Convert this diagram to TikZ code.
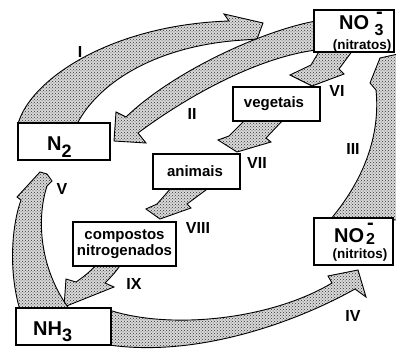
\documentclass[tikz,border=0pt]{standalone}
\usepackage{fontspec}
\setmainfont{Liberation Sans}
\usetikzlibrary{patterns}
\begin{document}
\begin{tikzpicture}[x=1pt,y=-1pt,
  box/.style={draw=black, line width=1.2pt, fill=white, inner sep=0pt},
  arr/.style={draw=black, line width=0.9pt, line join=miter,
              preaction={fill=gray!30}, pattern=crosshatch dots, pattern color=black!80},
  lab/.style={font=\bfseries\fontsize{16}{16}\selectfont, inner sep=0pt},
  txt/.style={font=\bfseries\fontsize{15}{15.5}\selectfont, inner sep=0pt, align=center},
  small/.style={font=\bfseries\fontsize{13.5}{13.5}\selectfont, inner sep=0pt},
  big/.style={font=\bfseries\fontsize{20}{20}\selectfont, inner sep=0pt},
  sub/.style={font=\bfseries\fontsize{16}{16}\selectfont, inner sep=0pt}]
\useasboundingbox (0,0) rectangle (396,350);
\fill[white] (0,0) rectangle (396,350);

% ---- arrows ----
% I : N2 -> NO3
\path[arr] (18,124) .. controls (30,80) and (110,25) .. (229,21) -- (224,14) -- (263,23)
  -- (257,39) -- (244,40) .. controls (160,45) and (100,80) .. (77,124) -- cycle;
% II : NO3 -> N2
\path[arr] (316,21) .. controls (265,30) and (175,70) .. (126,117) -- (116,112) -- (114,141)
  -- (146,143) -- (138,133) .. controls (185,98) and (255,58) .. (316,50) -- cycle;
% III : NO2 -> NO3
\begin{scope}
\clip (0,0) rectangle (396,350);
\path[arr] (330,220) .. controls (368,175) and (380,130) .. (376,90) -- (370,83) -- (380,58)
  -- (398,54) -- (400,220) -- cycle;
\end{scope}
% IV : NH3 -> NO2
\path[arr] (109,310) .. controls (170,330) and (270,320) .. (332,283) -- (328,276) -- (358,270)
  -- (366,297) -- (355,289) .. controls (300,320) and (200,358) .. (109,345) -- cycle;
% IX : compostos -> NH3
\path[arr] (97,264) .. controls (90,272) and (82,278) .. (76,282) -- (66,279) -- (64,307)
  -- (114,287) -- (105,283) .. controls (110,278) and (116,272) .. (121,264) -- cycle;
% V : NH3 -> N2
\path[arr] (20,310) .. controls (8,270) and (12,225) .. (21,200) -- (17,197) -- (40,172)
  -- (47,174) -- (52,181) -- (47,186) .. controls (36,220) and (40,270) .. (70,310) -- cycle;
% VI : NO3 -> vegetais
\path[arr] (320,50) -- (311,65) -- (290,75) -- (312,86) -- (344,74) -- (339,69) -- (353,50) -- cycle;
% VII : vegetais -> animais
\path[arr] (246,119) -- (229,136) -- (218,140) -- (237,152) -- (271,142) -- (266,138) -- (284,119) -- cycle;
% VIII : animais -> compostos
\path[arr] (172,187) -- (157,204) -- (146,209) -- (160,219) -- (191,208) -- (187,204) -- (210,187) -- cycle;

% ---- boxes ----
\node[box, minimum width=92, minimum height=37] (n2) at (64,141.5) {};
\node[big, anchor=base west] (n2t) at (47,150) {N\raisebox{-7pt}{\fontsize{18}{18}\selectfont 2}};

\node[box, minimum width=80, minimum height=42] (no3) at (354,31) {};
\node[big, anchor=base west] (no3t) at (339,30) {NO};
\node[big, anchor=base] (no3m) at (379.5,18.5) {-};
\node[sub, anchor=base west] (no3s) at (374.5,36) {3};
\node[small] (no3n) at (362,46.5) {(nitratos)};

\node[box, minimum width=87, minimum height=34] (veg) at (276.5,104) {};
\node[txt] (vegt) at (274,104) {vegetais};

\node[box, minimum width=87, minimum height=35] (ani) at (196.5,171.5) {};
\node[txt] (anit) at (195,171) {animais};

\node[box, minimum width=103, minimum height=44] (comp) at (124.5,244) {};
\node[txt] (compt) at (124.5,244) {compostos\\nitrogenados};

\node[box, minimum width=95, minimum height=37] (nh3) at (63.5,326.5) {};
\node[big, anchor=base west] (nh3t) at (33,335) {NH\raisebox{-6pt}{\fontsize{18}{18}\selectfont 3}};

\node[box, minimum width=79, minimum height=47] (no2) at (353.5,241.5) {};
\node[big, anchor=base west] (no2t) at (334,242) {NO};
\node[big, anchor=base] (no2m) at (370.5,229) {-};
\node[sub, anchor=base west] (no2s) at (366,244.5) {2};
\node[small] (no2n) at (360,255.5) {(nitritos)};

% ---- labels ----
\node[lab] (l1) at (80,52) {I};
\node[lab] (l2) at (192,114) {II};
\node[lab] (l3) at (353,149) {III};
\node[lab] (l4) at (353,316) {IV};
\node[lab] (l5) at (62,189) {V};
\node[lab] (l6) at (337,91) {VI};
\node[lab] (l7) at (257,163) {VII};
\node[lab] (l8) at (198,228) {VIII};
\node[lab] (l9) at (134,284) {IX};
\end{tikzpicture}
\end{document}
